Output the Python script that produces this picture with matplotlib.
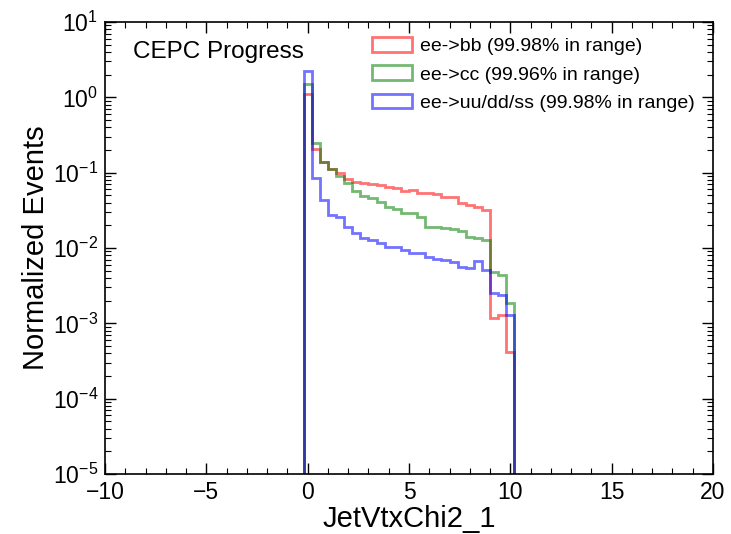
import numpy as np
import matplotlib.pyplot as plt
from matplotlib.patches import Patch
from matplotlib.ticker import MultipleLocator, LogLocator

plt.rcParams['font.family'] = ['Liberation Sans', 'DejaVu Sans']
plt.rcParams['mathtext.fontset'] = 'custom'
plt.rcParams['mathtext.rm'] = 'Liberation Sans'

# bin edges: 26 bins of width 0.4 from -0.2 to 10.2
edges = np.linspace(-0.2, 10.2, 27)

# normalized bin contents
bb = [1.10, 0.204, 0.140, 0.112, 0.099, 0.0815, 0.0758, 0.0722, 0.0706, 0.0685,
      0.0645, 0.0619, 0.0576, 0.0588, 0.0532, 0.0532, 0.0520, 0.0475, 0.0475, 0.0395,
      0.0372, 0.0353, 0.0319, 0.00118, 0.00129, 0.00042]
cc = [1.49, 0.250, 0.140, 0.112, 0.0902, 0.0722, 0.0576, 0.0494, 0.0454, 0.0411,
      0.0353, 0.0326, 0.0294, 0.0294, 0.0260, 0.0191, 0.0191, 0.0182, 0.0179, 0.0168,
      0.0141, 0.0134, 0.0128, 0.00484, 0.00438, 0.00184]
uds = [2.23, 0.0841, 0.0433, 0.0274, 0.0255, 0.0191, 0.0157, 0.0134, 0.0128, 0.0115,
       0.0102, 0.0102, 0.0094, 0.00865, 0.00865, 0.00766, 0.00720, 0.00692, 0.00651, 0.00564,
       0.00537, 0.00678, 0.00510, 0.00250, 0.00237, 0.00129]

labels = ['ee->bb (99.98% in range)',
          'ee->cc (99.96% in range)',
          'ee->uu/dd/ss (99.98% in range)']
colors = ['red', 'green', 'blue']

fig = plt.figure(figsize=(7.31, 5.34), dpi=100)
ax = fig.add_axes([0.1436, 0.1124, 0.8318, 0.8464])

centers = 0.5 * (edges[:-1] + edges[1:])
handles = []
for vals, col, lab in zip([bb, cc, uds], colors, labels):
    ax.hist(centers, bins=edges, weights=vals, histtype='step', color=col,
            alpha=0.55, linewidth=2, log=True)
    handles.append(Patch(facecolor='none', edgecolor=col, alpha=0.55, linewidth=2, label=lab))

ax.set_xlim(-10, 20)
ax.set_ylim(1e-5, 1e1)
ax.set_yscale('log')

ax.xaxis.set_major_locator(MultipleLocator(5))
ax.xaxis.set_minor_locator(MultipleLocator(1))
ax.yaxis.set_major_locator(LogLocator(base=10, numticks=10))
ax.yaxis.set_minor_locator(LogLocator(base=10, subs=np.arange(2, 10), numticks=20))
ax.tick_params(which='both', direction='in', top=True, right=True, labelsize=16.5)
ax.tick_params(which='major', length=8, width=1, pad=5)
ax.tick_params(which='minor', length=4, width=0.8)
for s in ax.spines.values():
    s.set_linewidth(1.2)

ax.set_xlabel('JetVtxChi2_1', fontsize=21, labelpad=1)
ax.set_ylabel('Normalized Events', fontsize=21, labelpad=2)

ax.text(0.046, 0.934, 'CEPC Progress', transform=ax.transAxes, fontsize=17.5,
        va='center', ha='left')
ax.legend(handles=handles, loc='upper left', bbox_to_anchor=(0.426, 0.984),
          frameon=False, fontsize=14, handlelength=2.05, handleheight=0.8,
          handletextpad=0.45, borderaxespad=0.0, labelspacing=0.52)

fig.savefig('out.png', dpi=100)
